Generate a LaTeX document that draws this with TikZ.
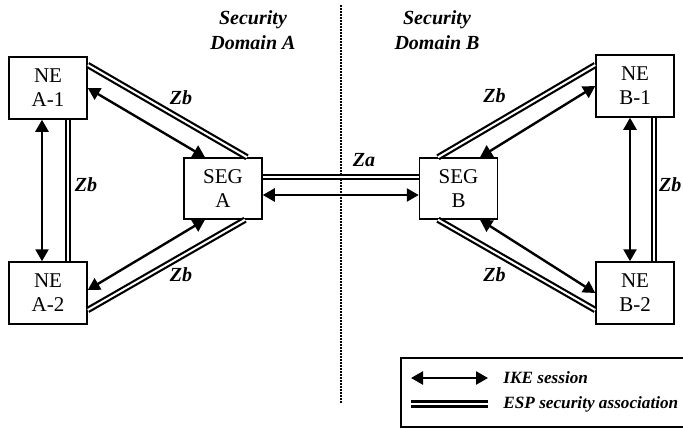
\documentclass[tikz,border=0pt]{standalone}
\usepackage{fontspec}
\setmainfont{Liberation Serif}
\usetikzlibrary{arrows.meta}

\begin{document}
\begin{tikzpicture}[
  x=0.5pt, y=-0.5pt,
  box/.style={draw, line width=0.75pt, align=center, inner sep=0pt, minimum width=39pt, font=\fontsize{10.5}{12}\selectfont},
  ne/.style={box, minimum height=31pt},
  seg/.style={box, minimum height=30.5pt},
  ike/.style={line width=1.2pt, {Triangle[length=6pt,width=6.5pt]}-{Triangle[length=6pt,width=6.5pt]}},
  esp/.style={double, line width=1.1pt, double distance=1pt},
  zlbl/.style={font=\fontsize{10}{12}\selectfont\bfseries\itshape},
  dom/.style={align=center, font=\fontsize{10}{12.5}\selectfont\bfseries\itshape},
  divider/.style={line width=1pt, dash pattern=on 1pt off 0.5pt},
  legbox/.style={draw, line width=0.75pt, minimum width=149.5pt, minimum height=34.5pt},
  legtxt/.style={anchor=west, inner sep=0pt, font=\fontsize{8.6}{10}\selectfont\bfseries\itshape},
]
\path[use as bounding box, clip] (0,0) rectangle (683,428);

\node[ne] (nea1) at (48,88) {NE\\A-1};
\node[ne] (nea2) at (48,293) {NE\\A-2};
\node[seg] (sega) at (223,188.5) {SEG\\A};
\node[seg] (segb) at (458.5,188.5) {SEG\\B};
\node[ne] (neb1) at (635,86) {NE\\B-1};
\node[ne] (neb2) at (635,293) {NE\\B-2};

\node[dom] (doma) at (253,30) {Security\\Domain A};
\node[dom] (domb) at (437,30) {Security\\Domain B};
\coordinate (divtop) at (341,5);
\coordinate (divbot) at (341,404);
\draw[divider] (divtop) -- (divbot);

\draw[esp] ([yshift=11.5pt]nea1.east) -- ([xshift=12pt]sega.north);
\draw[ike] (nea1.east) -- ([xshift=-9pt]sega.north);
\draw[ike] ([xshift=-3pt]nea1.south) -- ([xshift=-3pt]nea2.north);
\draw[esp] ([xshift=10pt]nea1.south) -- ([xshift=10pt]nea2.north);
\draw[ike] ([xshift=-9pt]sega.south) -- ([yshift=1.5pt]nea2.east);
\draw[esp] ([xshift=11pt]sega.south) -- ([yshift=-8.5pt]nea2.east);
\draw[esp] ([yshift=5.75pt]sega.east) -- ([yshift=5.75pt]segb.west);
\draw[ike] ([yshift=-3.25pt]sega.east) -- ([yshift=-3.25pt]segb.west);
\draw[esp] ([xshift=-10.25pt]segb.north) -- ([yshift=10.5pt]neb1.west);
\draw[ike] ([xshift=10.75pt]segb.north) -- (neb1.west);
\draw[ike] ([xshift=-2.5pt]neb1.south) -- ([xshift=-2.5pt]neb2.north);
\draw[esp] ([xshift=9.5pt]neb1.south) -- ([xshift=9.5pt]neb2.north);
\draw[esp] ([xshift=-10.25pt]segb.south) -- ([yshift=-8.5pt]neb2.west);
\draw[ike] ([xshift=10.75pt]segb.south) -- (neb2.west);

\node[zlbl] (zba1) at (181,98) {Zb};
\node[zlbl] (zba2) at (86,185) {Zb};
\node[zlbl] (zba3) at (181,275) {Zb};
\node[zlbl] (zbb1) at (494.5,96) {Zb};
\node[zlbl] (zbb3) at (494.5,275) {Zb};
\node[zlbl, anchor=west] (zbb2) at (652,185) {Zb};
\node[zlbl] (za) at (364,160) {Za};

\node[legbox] (legend) at (550.5,392.5) {};
\coordinate (ikel) at (411,378);
\coordinate (iker) at (488,378);
\draw[ike] (ikel) -- (iker);
\node[legtxt] (iketxt) at (503,378) {IKE session};
\coordinate (espl) at (411,404);
\coordinate (espr) at (488,404);
\draw[esp, line width=1.4pt] (espl) -- (espr);
\node[legtxt] (esptxt) at (503,404) {ESP security association};
\end{tikzpicture}
\end{document}
